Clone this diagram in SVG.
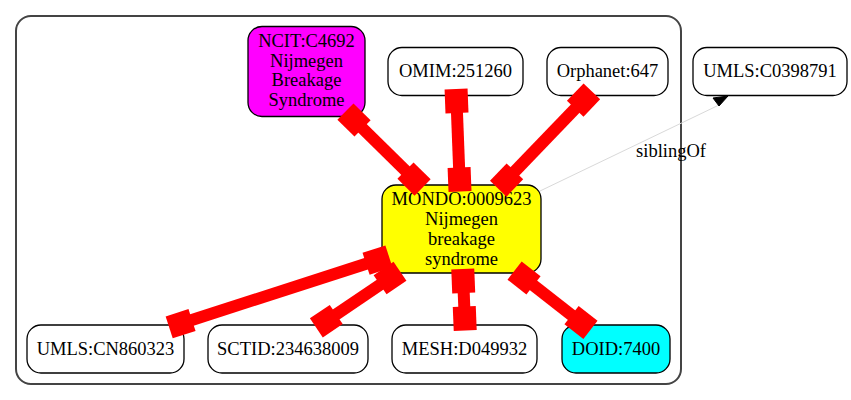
<svg xmlns="http://www.w3.org/2000/svg" width="851" height="400" viewBox="0 0 851 400">
<style>
  text { font-family: "Liberation Serif", "Times New Roman", serif; font-size: 18.5px; fill: #000; text-anchor: middle; }
  .node rect { stroke: #000; stroke-width: 1.3; }
  .cluster { fill: #fff; stroke: #444; stroke-width: 2; }
  .red rect { fill: #ff0000; stroke: none; }
  .sib { stroke: #d9d9d9; stroke-width: 1; fill: none; }
</style>
<rect width="851" height="400" fill="#fff"/>
<rect class="cluster" x="16" y="16" width="665" height="368" rx="15" ry="15"/>

<g id="ncit" class="node">
  <rect x="248" y="26.5" width="117" height="90" rx="14" ry="14" fill="#ff00ff"/>
  <text x="306.5" y="47">NCIT:C4692</text>
  <text x="306.5" y="66.6">Nijmegen</text>
  <text x="306.5" y="86.2">Breakage</text>
  <text x="306.5" y="105.8">Syndrome</text>
</g>
<g id="omim" class="node">
  <rect x="388" y="47.5" width="135" height="48" rx="14" ry="14" fill="#fff"/>
  <text x="455.5" y="77">OMIM:251260</text>
</g>
<g id="orphanet" class="node">
  <rect x="547" y="47.5" width="121" height="48" rx="14" ry="14" fill="#fff"/>
  <text x="607.5" y="77">Orphanet:647</text>
</g>
<g id="umls-c0398791" class="node">
  <rect x="693" y="47.5" width="154" height="48" rx="14" ry="14" fill="#fff"/>
  <text x="770" y="77">UMLS:C0398791</text>
</g>
<g id="mondo" class="node">
  <rect x="382" y="185" width="159" height="88" rx="14" ry="14" fill="#ffff00"/>
  <text x="461.5" y="205">MONDO:0009623</text>
  <text x="461.5" y="225.3">Nijmegen</text>
  <text x="461.5" y="245.3">breakage</text>
  <text x="461.5" y="265">syndrome</text>
</g>
<g id="umls-cn860323" class="node">
  <rect x="27" y="325" width="157" height="48" rx="14" ry="14" fill="#fff"/>
  <text x="105.5" y="355">UMLS:CN860323</text>
</g>
<g id="sctid" class="node">
  <rect x="208" y="325" width="160" height="48" rx="14" ry="14" fill="#fff"/>
  <text x="288" y="355">SCTID:234638009</text>
</g>
<g id="mesh" class="node">
  <rect x="392" y="325" width="145" height="48" rx="14" ry="14" fill="#fff"/>
  <text x="464.5" y="355">MESH:D049932</text>
</g>
<g id="doid" class="node">
  <rect x="562" y="325" width="108" height="48" rx="14" ry="14" fill="#00ffff"/>
  <text x="616" y="355">DOID:7400</text>
</g>

<g id="connectors">
  <g class="red">
    <!-- NCIT -> MONDO -->
    <g transform="translate(349.7,115.8) rotate(44.5)">
      <rect x="0" y="-6" width="96.2" height="12"/>
      <rect x="-6" y="-11.5" width="24" height="23"/>
      <rect x="78.2" y="-11.5" width="24" height="23"/>
    </g>
    <!-- OMIM -> MONDO -->
    <g transform="translate(456.3,95) rotate(87.8)">
      <rect x="0" y="-6" width="90.6" height="12"/>
      <rect x="-6" y="-11.5" width="24" height="23"/>
      <rect x="72.6" y="-11.5" width="24" height="23"/>
    </g>
    <!-- Orphanet -> MONDO -->
    <g transform="translate(587.7,95.7) rotate(133.9)">
      <rect x="0" y="-6" width="123" height="12"/>
      <rect x="-6" y="-11.5" width="24" height="23"/>
      <rect x="105" y="-11.5" width="24" height="23"/>
    </g>
    <!-- MONDO -> UMLS:CN860323 -->
    <g transform="translate(383.2,258.2) rotate(162.1)">
      <rect x="0" y="-6" width="218.9" height="12"/>
      <rect x="-6" y="-11.5" width="24" height="23"/>
      <rect x="200.9" y="-11.5" width="24" height="23"/>
    </g>
    <!-- MONDO -> SCTID -->
    <g transform="translate(395,274.6) rotate(145.9)">
      <rect x="0" y="-6" width="89" height="12"/>
      <rect x="-6" y="-11.5" width="24" height="23"/>
      <rect x="71" y="-11.5" width="24" height="23"/>
    </g>
    <!-- MONDO -> MESH -->
    <g transform="translate(463,275) rotate(87.7)">
      <rect x="0" y="-6" width="49.5" height="12"/>
      <rect x="-6" y="-11.5" width="24" height="23"/>
      <rect x="31.5" y="-11.5" width="24" height="23"/>
    </g>
    <!-- MONDO -> DOID -->
    <g transform="translate(519.3,274.3) rotate(38)">
      <rect x="0" y="-6" width="84.3" height="12"/>
      <rect x="-6" y="-11.5" width="24" height="23"/>
      <rect x="66.3" y="-11.5" width="24" height="23"/>
    </g>
  </g>
  <!-- siblingOf -->
  <g id="edge-sibling">
    <path class="sib" d="M540,191 L719,105"/>
    <polygon points="713,98 728,96 719,106" fill="#000" stroke="#000" stroke-width="1"/>
    <text x="671" y="157">siblingOf</text>
  </g>
</g>
</svg>
